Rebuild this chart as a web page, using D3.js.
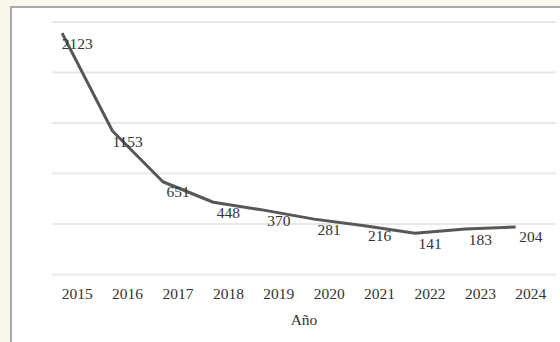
<!DOCTYPE html>
<html>
<head>
<meta charset="utf-8">
<script src="https://cdn.jsdelivr.net/npm/d3@7"></script>
<style>
  html, body { margin: 0; padding: 0; background: #f9f6ee; }
  svg { display: block; }
  text { font-family: "Liberation Serif", "Times New Roman", serif; fill: #333333; }
</style>
</head>
<body>
<script>
// Yearly counts, 2015–2024
const years = ["2015", "2016", "2017", "2018", "2019", "2020", "2021", "2022", "2023", "2024"];
const counts = [2123, 1153, 651, 448, 370, 281, 216, 141, 183, 204];
const yDomain = [0, 2500];
const xTitle = "Año";

const W = 560, H = 342;
const plot = { left: 52, right: 556, top: 22, bottom: 274.5 };

const svg = d3.select("body").append("svg").attr("width", W).attr("height", H);

// white chart panel with grey frame
svg.append("rect")
  .attr("x", 11).attr("y", 7).attr("width", W).attr("height", H)
  .attr("fill", "#ffffff").attr("stroke", "#a8a8a8").attr("stroke-width", 2);

const x = d3.scaleBand().domain(years).range([plot.left, plot.right]).padding(0);
const y = d3.scaleLinear().domain(yDomain).range([plot.bottom, plot.top]);

// horizontal gridlines
svg.append("g").selectAll("line")
  .data(y.ticks(5))
  .join("line")
  .attr("x1", plot.left).attr("x2", plot.right)
  .attr("y1", d => y(d)).attr("y2", d => y(d))
  .attr("stroke", "#e8e8e8").attr("stroke-width", 2);

// category labels along the bottom
const xAxis = svg.append("g")
  .attr("transform", `translate(0,${plot.bottom})`)
  .call(d3.axisBottom(x).tickSize(0).tickPadding(13));
xAxis.select(".domain").remove();
xAxis.selectAll("text")
  .attr("font-size", 15.5)
  .attr("font-family", "Liberation Serif, serif")
  .attr("fill", "#333333");

// axis title
svg.append("text")
  .attr("x", (plot.left + plot.right) / 2).attr("y", 325)
  .attr("text-anchor", "middle").attr("font-size", 15.5)
  .text(xTitle);

// series line: set slightly inside each category band, raised above the grid baseline
const lineShift = { dx: x.bandwidth() * 0.2, dy: -27 };
const series = years.map((yr, i) => ({ yr, v: counts[i] }));

const line = d3.line()
  .x(d => x(d.yr) + lineShift.dx)
  .y(d => y(d.v) + lineShift.dy);

svg.append("path")
  .datum(series)
  .attr("d", line)
  .attr("fill", "none")
  .attr("stroke", "#575757")
  .attr("stroke-width", 3)
  .attr("stroke-linejoin", "round");

// value labels centred under each point
svg.append("g").selectAll("text")
  .data(series)
  .join("text")
  .attr("x", d => x(d.yr) + x.bandwidth() / 2)
  .attr("y", d => y(d.v) + lineShift.dy + 15.5)
  .attr("text-anchor", "middle")
  .attr("font-size", 15.5)
  .text(d => d.v);
</script>
</body>
</html>
